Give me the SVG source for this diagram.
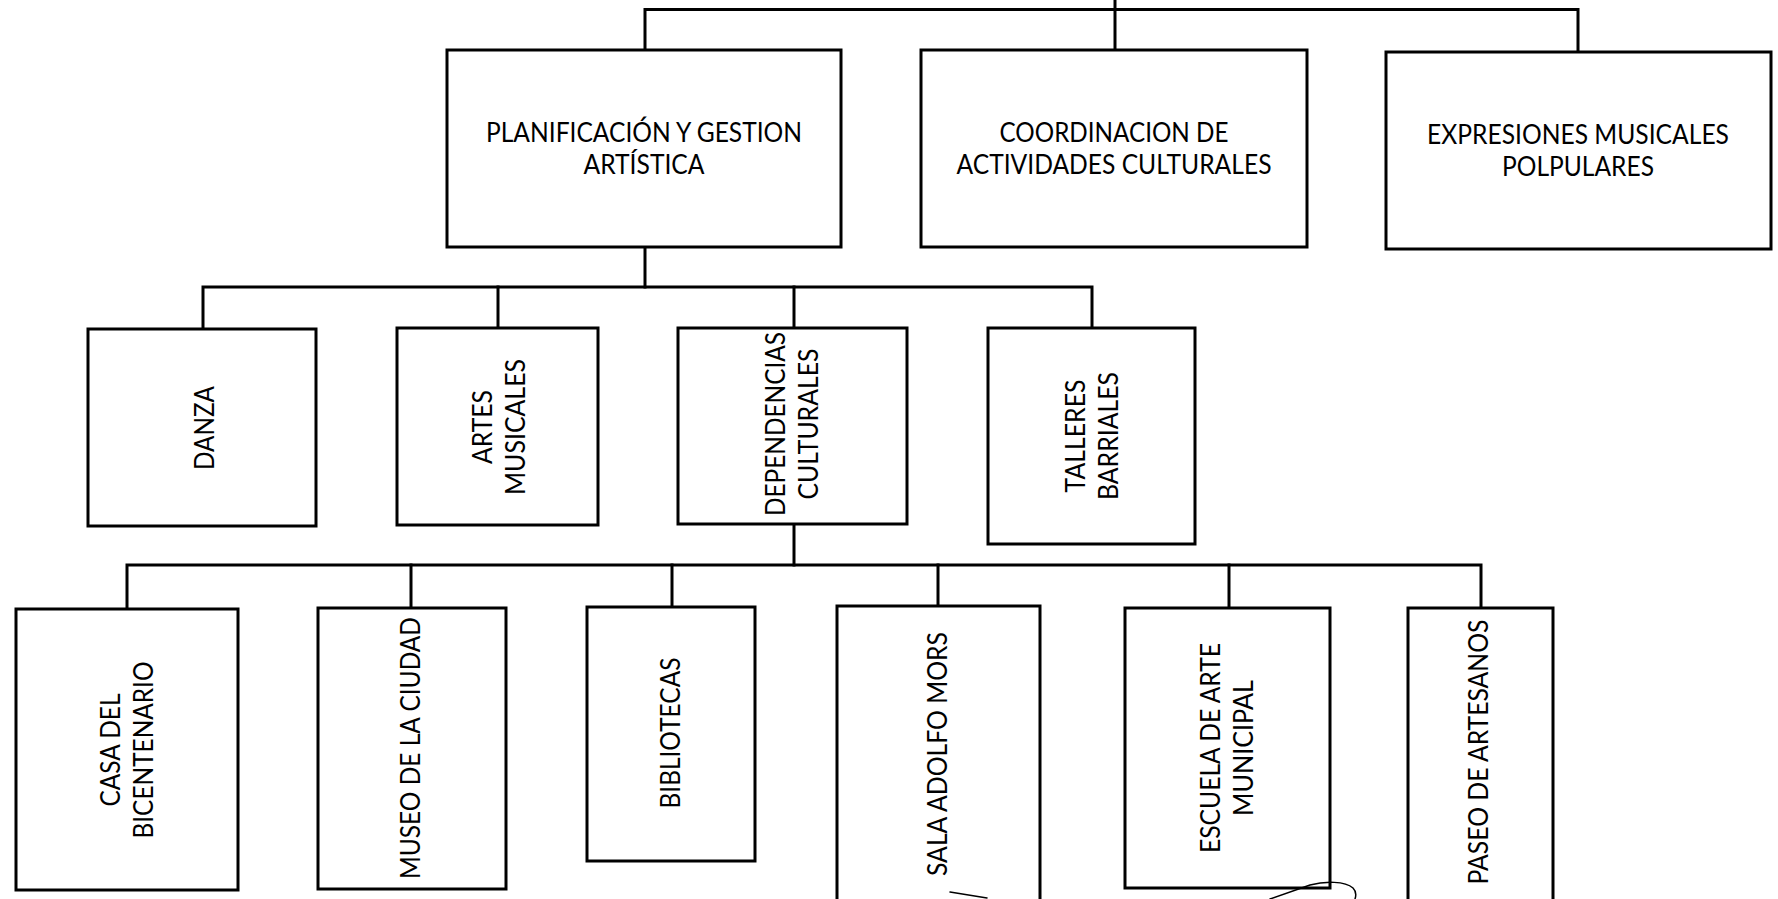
<svg xmlns="http://www.w3.org/2000/svg" width="1778" height="899" viewBox="0 0 1778 899">
  <style>
    .box { fill: #ffffff; stroke: #000000; stroke-width: 3; }
    .conn { fill: none; stroke: #000000; stroke-width: 3; stroke-linecap: square; }
    .ink { fill: none; stroke: #000000; stroke-width: 1.5; stroke-linecap: round; }
    text { font-family: Lato, "Open Sans", "Liberation Sans", sans-serif; font-size: 26px; fill: #000000; }
    .h { text-anchor: middle; }
    .v { text-anchor: middle; }
  </style>
  <rect x="0" y="0" width="1778" height="899" fill="#ffffff"/>

  <g id="connectors">
    <path class="conn" d="M1115,0 V50"/>
    <path class="conn" d="M645,50 V9.5 H1578 V52"/>
    <path class="conn" d="M645,247 V287"/>
    <path class="conn" d="M203,329 V287 H1092 V328"/>
    <path class="conn" d="M498,287 V328"/>
    <path class="conn" d="M794,287 V328"/>
    <path class="conn" d="M794,524 V565"/>
    <path class="conn" d="M127,609 V565 H1481 V608"/>
    <path class="conn" d="M411,565 V608"/>
    <path class="conn" d="M672,565 V607"/>
    <path class="conn" d="M938,565 V606"/>
    <path class="conn" d="M1229,565 V608"/>
  </g>

  <g id="node-planificacion">
    <rect class="box" x="447" y="50" width="394" height="197"/>
    <text class="h" x="644" y="142" textLength="316" lengthAdjust="spacingAndGlyphs">PLANIFICACIÓN Y GESTION</text>
    <text class="h" x="644" y="174" textLength="121" lengthAdjust="spacingAndGlyphs">ARTÍSTICA</text>
  </g>
  <g id="node-coordinacion">
    <rect class="box" x="921" y="50" width="386" height="197"/>
    <text class="h" x="1114" y="142" textLength="229" lengthAdjust="spacingAndGlyphs">COORDINACION DE</text>
    <text class="h" x="1114" y="174" textLength="315" lengthAdjust="spacingAndGlyphs">ACTIVIDADES CULTURALES</text>
  </g>
  <g id="node-expresiones">
    <rect class="box" x="1386" y="52" width="385" height="197"/>
    <text class="h" x="1578" y="144" textLength="302" lengthAdjust="spacingAndGlyphs">EXPRESIONES MUSICALES</text>
    <text class="h" x="1578" y="176" textLength="152" lengthAdjust="spacingAndGlyphs">POLPULARES</text>
  </g>

  <g id="node-danza">
    <rect class="box" x="88" y="329" width="228" height="197"/>
    <g transform="translate(205,428) rotate(-90)">
      <text class="v" x="0" y="9.4" textLength="84" lengthAdjust="spacingAndGlyphs">DANZA</text>
    </g>
  </g>
  <g id="node-artes-musicales">
    <rect class="box" x="397" y="328" width="201" height="197"/>
    <g transform="translate(499,427) rotate(-90)">
      <text class="v" x="0" y="-7" textLength="74" lengthAdjust="spacingAndGlyphs">ARTES</text>
      <text class="v" x="0" y="26" textLength="136" lengthAdjust="spacingAndGlyphs">MUSICALES</text>
    </g>
  </g>
  <g id="node-dependencias">
    <rect class="box" x="678" y="328" width="229" height="196"/>
    <g transform="translate(792,424) rotate(-90)">
      <text class="v" x="0" y="-7" textLength="184" lengthAdjust="spacingAndGlyphs">DEPENDENCIAS</text>
      <text class="v" x="0" y="26" textLength="151" lengthAdjust="spacingAndGlyphs">CULTURALES</text>
    </g>
  </g>
  <g id="node-talleres">
    <rect class="box" x="988" y="328" width="207" height="216"/>
    <g transform="translate(1092,436) rotate(-90)">
      <text class="v" x="0" y="-7" textLength="113" lengthAdjust="spacingAndGlyphs">TALLERES</text>
      <text class="v" x="0" y="26" textLength="128" lengthAdjust="spacingAndGlyphs">BARRIALES</text>
    </g>
  </g>

  <g id="node-casa">
    <rect class="box" x="16" y="609" width="222" height="281"/>
    <g transform="translate(127,750) rotate(-90)">
      <text class="v" x="0" y="-7" textLength="113" lengthAdjust="spacingAndGlyphs">CASA DEL</text>
      <text class="v" x="0" y="26" textLength="177" lengthAdjust="spacingAndGlyphs">BICENTENARIO</text>
    </g>
  </g>
  <g id="node-museo">
    <rect class="box" x="318" y="608" width="188" height="281"/>
    <g transform="translate(411,748) rotate(-90)">
      <text class="v" x="0" y="9.4" textLength="262" lengthAdjust="spacingAndGlyphs">MUSEO DE LA CIUDAD</text>
    </g>
  </g>
  <g id="node-bibliotecas">
    <rect class="box" x="587" y="607" width="168" height="254"/>
    <g transform="translate(671,733) rotate(-90)">
      <text class="v" x="0" y="9.4" textLength="151" lengthAdjust="spacingAndGlyphs">BIBLIOTECAS</text>
    </g>
  </g>
  <g id="node-sala">
    <rect class="box" x="837" y="606" width="203" height="300"/>
    <g transform="translate(938,754) rotate(-90)">
      <text class="v" x="0" y="9.4" textLength="244" lengthAdjust="spacingAndGlyphs">SALA ADOLFO MORS</text>
    </g>
  </g>
  <g id="node-escuela">
    <rect class="box" x="1125" y="608" width="205" height="280"/>
    <g transform="translate(1227,748) rotate(-90)">
      <text class="v" x="0" y="-7" textLength="210" lengthAdjust="spacingAndGlyphs">ESCUELA DE ARTE</text>
      <text class="v" x="0" y="26" textLength="136" lengthAdjust="spacingAndGlyphs">MUNICIPAL</text>
    </g>
  </g>
  <g id="node-paseo">
    <rect class="box" x="1408" y="608" width="145" height="300"/>
    <g transform="translate(1479,752) rotate(-90)">
      <text class="v" x="0" y="9.4" textLength="265" lengthAdjust="spacingAndGlyphs">PASEO DE ARTESANOS</text>
    </g>
  </g>

  <g id="handwriting">
    <path class="ink" d="M950,892 L987,898"/>
    <path class="ink" d="M1270,899 L1310,885 C1325,881 1345,881 1353,888 C1357,892 1356,896 1355,899"/>
  </g>
</svg>
